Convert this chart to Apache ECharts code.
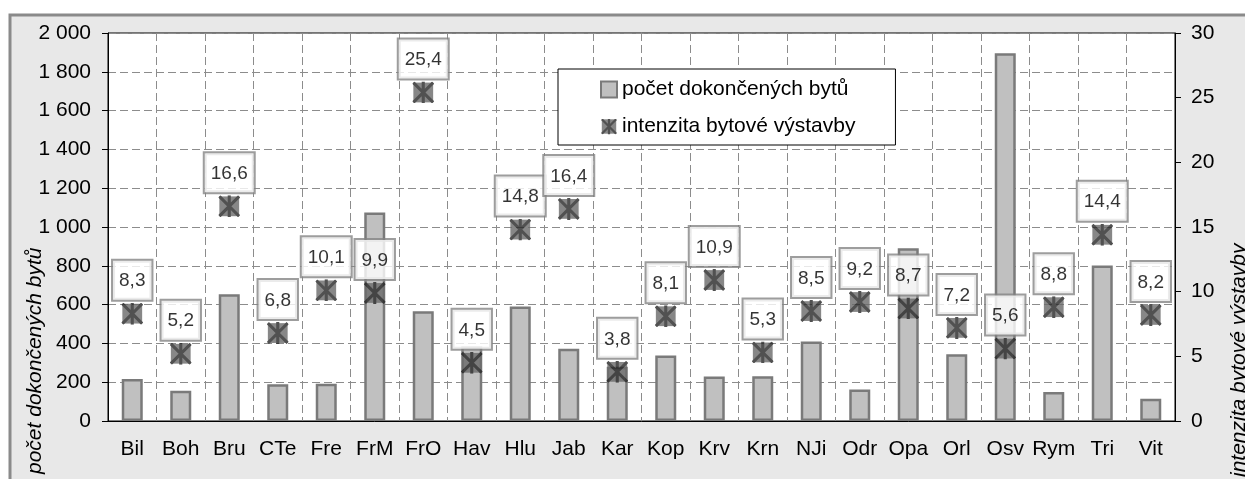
<!DOCTYPE html>
<html>
<head>
<meta charset="utf-8">
<script src="https://cdn.jsdelivr.net/npm/echarts@6/dist/echarts.min.js"></script>
<style>
  html, body { margin: 0; padding: 0; background: #fff; }
  #chart { width: 1245px; height: 479px; }
</style>
</head>
<body>
<div id="chart"></div>
<script>
const categories = ['Bil', 'Boh', 'Bru', 'CTe', 'Fre', 'FrM', 'FrO', 'Hav', 'Hlu', 'Jab', 'Kar',
  'Kop', 'Krv', 'Krn', 'NJi', 'Odr', 'Opa', 'Orl', 'Osv', 'Rym', 'Tri', 'Vit']
// počet dokončených bytů (levá osa)
const flats = [216, 156, 653, 189, 192, 1075, 566, 384, 590, 372, 280,
  338, 229, 231, 410, 163, 890, 344, 1896, 149, 802, 115]
// intenzita bytové výstavby (pravá osa)
const intensity = [8.3, 5.2, 16.6, 6.8, 10.1, 9.9, 25.4, 4.5, 14.8, 16.4, 3.8,
  8.1, 10.9, 5.3, 8.5, 9.2, 8.7, 7.2, 5.6, 8.8, 14.4, 8.2]
const leftTicks = { min: 0, max: 2000, interval: 200 }
const rightTicks = { min: 0, max: 30, interval: 5 }

const font = "'Liberation Sans', Arial, sans-serif"
const gridColor = '#8c8c8c'

// marker: grey square with a dark asterisk
const markerSvg = "<svg xmlns='http://www.w3.org/2000/svg' width='20' height='20'>" +
  "<rect x='1' y='1' width='18' height='18' fill='#6a6a6a'/>" +
  "<path d='M1 1L19 19M19 1L1 19M10 0V20' stroke='#262626' stroke-width='2.8' fill='none'/>" +
  '</svg>'
const markerIcon = 'image://data:image/svg+xml;charset=utf-8,' + encodeURIComponent(markerSvg)

const thousands = (v) => String(v).replace(/\B(?=(\d{3})+(?!\d))/g, ' ')

const chart = echarts.init(document.getElementById('chart'))
const option = {
  animation: false,
  textStyle: { fontFamily: font },
  graphic: [
    {
      type: 'rect',
      z: -10,
      shape: { x: 10, y: 15, width: 1300, height: 600 },
      style: { fill: '#e8e8e8', stroke: '#8a8a8a', lineWidth: 3 }
    },
    {
      type: 'text',
      x: 35,
      y: 474,
      rotation: Math.PI / 2,
      style: {
        text: 'počet dokončených bytů',
        font: 'italic 21px ' + font,
        fill: '#000',
        textAlign: 'left',
        textVerticalAlign: 'middle'
      }
    },
    {
      type: 'text',
      x: 1239,
      y: 477,
      rotation: Math.PI / 2,
      style: {
        text: 'intenzita bytové výstavby',
        font: 'italic 21px ' + font,
        fill: '#000',
        textAlign: 'left',
        textVerticalAlign: 'middle'
      }
    }
  ],
  grid: {
    left: 108,
    right: 70,
    top: 33,
    bottom: 58,
    show: true,
    backgroundColor: '#fff',
    borderColor: '#000',
    borderWidth: 1
  },
  legend: {
    orient: 'vertical',
    left: 558,
    top: 69,
    padding: [10, 40, 8, 42],
    itemGap: 16,
    itemWidth: 16,
    itemHeight: 16,
    backgroundColor: '#fff',
    borderColor: '#000',
    borderWidth: 1,
    borderRadius: 0,
    textStyle: { fontSize: 21, color: '#000', fontFamily: font },
    data: [
      { name: 'počet dokončených bytů', icon: 'rect' },
      { name: 'intenzita bytové výstavby', icon: markerIcon }
    ]
  },
  xAxis: {
    type: 'category',
    data: categories,
    axisLine: { lineStyle: { color: '#000', width: 1 } },
    axisTick: { length: 6, lineStyle: { color: '#000' } },
    axisLabel: { fontSize: 21, color: '#000', margin: 18, interval: 0 },
    splitLine: { show: true, lineStyle: { color: gridColor, type: [8, 4], width: 1 } }
  },
  yAxis: [
    {
      type: 'value',
      ...leftTicks,
      axisLine: { show: true, lineStyle: { color: '#000' } },
      axisTick: { show: true, length: 6, lineStyle: { color: '#000' } },
      axisLabel: { fontSize: 21, color: '#000', margin: 17, formatter: thousands },
      splitLine: { show: true, lineStyle: { color: gridColor, type: [8, 4], width: 1 } }
    },
    {
      type: 'value',
      position: 'right',
      ...rightTicks,
      axisLine: { show: true, lineStyle: { color: '#000' } },
      axisTick: { show: true, length: 6, lineStyle: { color: '#000' } },
      axisLabel: { fontSize: 21, color: '#000', margin: 16 },
      splitLine: { show: false }
    }
  ],
  series: [
    {
      name: 'počet dokončených bytů',
      type: 'bar',
      data: flats,
      barWidth: 21,
      itemStyle: { color: '#c0c0c0', borderColor: '#7a7a7a', borderWidth: 2.5 }
    },
    {
      name: 'intenzita bytové výstavby',
      type: 'scatter',
      yAxisIndex: 1,
      data: intensity,
      symbol: markerIcon,
      symbolSize: 22,
      z: 5,
      label: {
        show: true,
        position: 'top',
        distance: 3,
        formatter: (p) => p.value.toFixed(1).replace('.', ','),
        fontSize: 19,
        color: '#000',
        fontFamily: font,
        backgroundColor: '#fff',
        borderColor: '#858585',
        borderWidth: 2,
        padding: [11, 6, 9, 6]
      }
    }
  ]
}
chart.setOption(option)
</script>
</body>
</html>
